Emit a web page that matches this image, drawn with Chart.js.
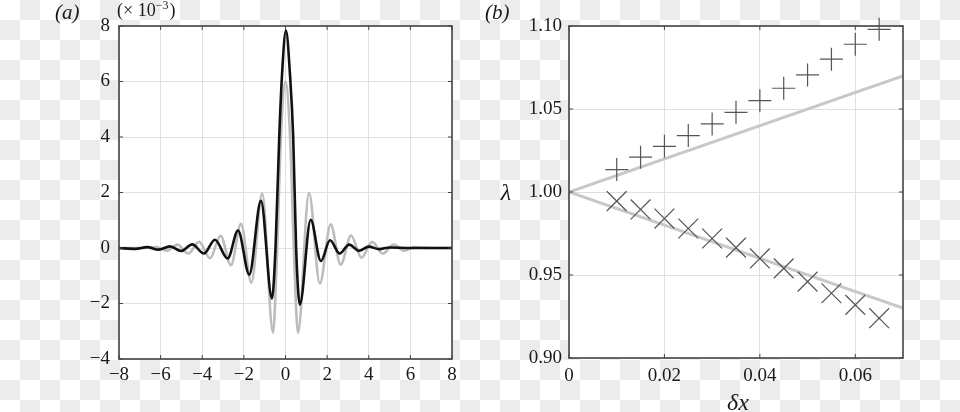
<!DOCTYPE html>
<html><head><meta charset="utf-8">
<script src="https://cdn.jsdelivr.net/npm/chart.js@4"></script>
<style>
html,body{margin:0;padding:0;}
body{width:960px;height:412px;overflow:hidden;position:relative;background-color:#fff;
background-image:conic-gradient(#ececec 0 25%,#fff 0 50%,#ececec 0 75%,#fff 0 100%);background-size:40px 40px;}
canvas{position:absolute;top:0;}
</style></head><body>
<canvas id="ca" width="480" height="412" style="left:0"></canvas>
<canvas id="cb" width="480" height="412" style="left:480px"></canvas>
<script>
// ---- panel (a) data (values in units of 1e-3) ----
const grayX  = [-8, -7, -6.2, -5.7, -5.2, -4.67, -4.15, -3.63, -3.12, -2.62, -2.14, -1.64, -1.12, -0.6, -0.4, -0.22, 0, 0.22, 0.4, 0.6, 1.13, 1.65, 2.17, 2.65, 3.15, 3.65, 4.16, 4.68, 5.2, 5.7, 6.2, 7, 8];
const grayY  = [0, 0, 0.03, -0.1, 0.12, -0.2, 0.22, -0.37, 0.44, -0.62, 0.87, -1.25, 1.97, -3.05, 0, 4, 6, 4, 0, -3.05, 1.99, -1.28, 0.85, -0.6, 0.45, -0.35, 0.22, -0.2, 0.12, -0.1, 0.03, 0, 0];
const blackX = [-8, -7.2, -6.65, -6.1, -5.55, -5.02, -4.48, -3.92, -3.39, -2.78, -2.28, -1.74, -1.18, -0.65, -0.48, -0.3, -0.17, 0.02, 0.22, 0.37, 0.51, 0.69, 1.21, 1.7, 2.14, 2.6, 3.06, 3.54, 4.0, 4.5, 5.0, 6, 7, 8];
const blackY = [0, -0.03, 0.03, -0.06, 0.06, -0.11, 0.13, -0.2, 0.3, -0.38, 0.63, -0.96, 1.7, -1.82, 0, 4, 6.2, 7.84, 6.2, 4, 0, -2.04, 1.02, -0.47, 0.28, -0.2, 0.12, -0.1, 0.05, -0.04, 0.02, 0, 0, 0];
const aXTicks = [-8, -6, -4, -2, 0, 2, 4, 6, 8];
const aYTicks = [-4, -2, 0, 2, 4, 6, 8];

// ---- panel (b) data ----
const dx        = [0.010, 0.015, 0.020, 0.025, 0.030, 0.035, 0.040, 0.045, 0.050, 0.055, 0.060, 0.065];
const lamPlus   = [1.0135, 1.021, 1.0275, 1.034, 1.041, 1.048, 1.055, 1.0625, 1.0705, 1.080, 1.089, 1.098];
const lamCross  = [0.9945, 0.9895, 0.984, 0.978, 0.972, 0.9665, 0.960, 0.954, 0.946, 0.939, 0.932, 0.924];
const theoryX     = [0, 0.07];
const theoryUpper = [1, 1.07];
const theoryLower = [1, 0.93];
const bXTicks = [0, 0.02, 0.04, 0.06];
const bYTicks = [0.90, 0.95, 1.00, 1.05, 1.10];

const pts = (xs, ys) => xs.map((x, i) => ({x, y: ys[i]}));
const SERIF = '"Liberation Serif", "DejaVu Serif", serif';
const tickFont = {family: SERIF, size: 19};

const frame = {
  id: 'frame',
  beforeDraw(c) {
    const a = c.chartArea, ctx = c.ctx;
    ctx.save(); ctx.fillStyle = '#fff';
    ctx.fillRect(a.left, a.top, a.right - a.left, a.bottom - a.top); ctx.restore();
  },
  afterDraw(c) {
    const a = c.chartArea, ctx = c.ctx, sx = c.scales.x, sy = c.scales.y;
    ctx.save(); ctx.strokeStyle = '#444'; ctx.lineWidth = 1;
    const ln = (x1, y1, x2, y2) => { ctx.beginPath(); ctx.moveTo(x1, y1); ctx.lineTo(x2, y2); ctx.stroke(); };
    sx.ticks.forEach(t => { const p = sx.getPixelForValue(t.value); ln(p, a.bottom, p, a.bottom - 4); ln(p, a.top, p, a.top + 4); });
    sy.ticks.forEach(t => { const p = sy.getPixelForValue(t.value); ln(a.left, p, a.left + 4, p); ln(a.right, p, a.right - 4, p); });
    ctx.lineWidth = 1.6; ctx.strokeRect(a.left, a.top, a.right - a.left, a.bottom - a.top);
    ctx.restore();
    const texts = c.options.plugins.frame.texts || [];
    texts.forEach(t => {
      ctx.save(); ctx.fillStyle = '#1a1a1a'; ctx.textBaseline = 'alphabetic';
      if (t.parts) {
        let x = t.x;
        t.parts.forEach(p => {
          ctx.font = p.font + SERIF; ctx.textAlign = 'left';
          ctx.fillText(p.s, x, t.y + (p.dy || 0));
          x += ctx.measureText(p.s).width + (p.gap || 0);
        });
      } else {
        ctx.font = t.font + SERIF; ctx.textAlign = t.align || 'left';
        ctx.fillText(t.s, t.x, t.y);
      }
      ctx.restore();
    });
  }
};

function scale(min, max, ticksArr, fit, pad, fmt) {
  return {
    type: 'linear', min, max,
    afterBuildTicks: s => { s.ticks = ticksArr.map(v => ({value: v})); },
    afterFit: fit,
    grid: {color: '#e0e0e0', lineWidth: 1, drawTicks: false},
    border: {display: false},
    ticks: {font: tickFont, color: '#1a1a1a', padding: pad, autoSkip: false, maxRotation: 0, callback: fmt}
  };
}

new Chart(document.getElementById('ca'), {
  type: 'line',
  data: {datasets: [
    {data: pts(blackX, blackY), borderColor: '#111', borderWidth: 2.6, pointRadius: 0, cubicInterpolationMode: 'monotone'},
    {data: pts(grayX, grayY), borderColor: '#bcbcbc', borderWidth: 2.6, pointRadius: 0, cubicInterpolationMode: 'monotone'}
  ]},
  options: {
    responsive: false, animation: false, devicePixelRatio: 1,
    layout: {padding: {left: 0, right: 28, top: 26, bottom: 0}},
    scales: {
      x: scale(-8, 8, aXTicks, s => { s.height = 53; }, 5, v => String(v).replace('-', '\u2212')),
      y: scale(-4, 8, aYTicks, s => { s.width = 119; }, 9, v => String(v).replace('-', '\u2212'))
    },
    plugins: {legend: {display: false}, tooltip: {enabled: false},
      frame: {texts: [
        {s: '(a)', x: 55, y: 19, font: 'italic 21px '},
        {x: 117, y: 16, parts: [
          {s: '(\u00d7 10', font: '18px '},
          {s: '\u22123', font: '12px ', dy: -7, gap: 1},
          {s: ')', font: '18px '}
        ]}
      ]}}
  },
  plugins: [frame]
});

new Chart(document.getElementById('cb'), {
  type: 'line',
  data: {datasets: [
    {data: pts(dx, lamPlus), showLine: false, pointStyle: 'cross', pointRadius: 11.5, borderColor: '#555', borderWidth: 1.2, clip: false},
    {data: pts(dx, lamCross), showLine: false, pointStyle: 'crossRot', pointRadius: 14, borderColor: '#555', borderWidth: 1.2, clip: false},
    {data: pts(theoryX, theoryUpper), borderColor: '#c8c8c8', borderWidth: 3, pointRadius: 0},
    {data: pts(theoryX, theoryLower), borderColor: '#c8c8c8', borderWidth: 3, pointRadius: 0}
  ]},
  options: {
    responsive: false, animation: false, devicePixelRatio: 1,
    layout: {padding: {left: 0, right: 57, top: 26, bottom: 0}},
    scales: {
      x: scale(0, 0.07, bXTicks, s => { s.height = 54; }, 7, v => v === 0 ? '0' : v.toFixed(2)),
      y: scale(0.90, 1.10, bYTicks, s => { s.width = 89; }, 7, v => v.toFixed(2))
    },
    plugins: {legend: {display: false}, tooltip: {enabled: false},
      frame: {texts: [
        {s: '(b)', x: 5, y: 19, font: 'italic 21px '},
        {s: '\u03bb', x: 26, y: 200, font: 'italic 24px ', align: 'center'},
        {s: '\u03b4x', x: 258, y: 410, font: 'italic 24px ', align: 'center'}
      ]}}
  },
  plugins: [frame]
});
</script>
</body></html>
